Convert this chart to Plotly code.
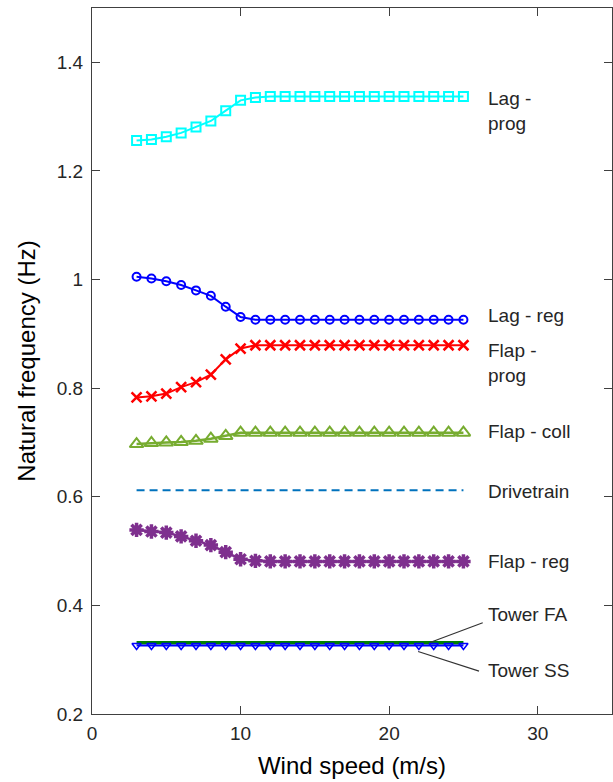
import plotly.graph_objects as go

# ---------------- data ----------------
wind_speed = list(range(3, 26))  # 3..25 m/s

lag_prog = [1.256, 1.258, 1.263, 1.270, 1.281, 1.292, 1.311, 1.330, 1.335] + [1.337] * 14
lag_reg = [1.005, 1.002, 0.997, 0.990, 0.980, 0.970, 0.950, 0.931, 0.926] + [0.926] * 14
flap_prog = [0.783, 0.785, 0.790, 0.802, 0.811, 0.825, 0.853, 0.873, 0.879] + [0.879] * 14
flap_coll = [0.697, 0.699, 0.700, 0.701, 0.703, 0.707, 0.712, 0.718, 0.718] + [0.718] * 14
drivetrain = [0.612] * 23
flap_reg = [0.539, 0.536, 0.534, 0.527, 0.519, 0.511, 0.498, 0.485, 0.482] + [0.481] * 14
tower_fa = [0.331] * 23
tower_ss = [0.326] * 23

# label texts and their anchor values (x, y in data units)
label_texts = ["Lag -<br>prog", "Lag - reg", "Flap -<br>prog", "Flap - coll",
               "Drivetrain", "Flap - reg", "Tower FA", "Tower SS"]
label_x = [26.5] * 8
label_y = [1.311, 0.934, 0.847, 0.720, 0.610, 0.480, 0.383, 0.281]

# leader lines for tower labels: (x0, y0, x1, y1)
leader_fa = (22.75, 0.3316, 26.3, 0.368)
leader_ss = (21.95, 0.315, 26.05, 0.279)

x_ticks = [0, 10, 20, 30]
y_ticks = [0.2, 0.4, 0.6, 0.8, 1.0, 1.2, 1.4]
y_ticktext = ["0.2", "0.4", "0.6", "0.8", "1", "1.2", "1.4"]

FONT = "Arial, Liberation Sans, sans-serif"
TXT = "#262626"

fig = go.Figure()

fig.add_trace(go.Scatter(x=wind_speed, y=lag_prog, mode="lines+markers",
                         line=dict(color="#00FFFF", width=2),
                         marker=dict(symbol="square-open", size=9, color="#00FFFF",
                                     line=dict(width=2, color="#00FFFF"))))
fig.add_trace(go.Scatter(x=wind_speed, y=lag_reg, mode="lines+markers",
                         line=dict(color="#0000FF", width=2),
                         marker=dict(symbol="circle-open", size=8, color="#0000FF",
                                     line=dict(width=2, color="#0000FF"))))
fig.add_trace(go.Scatter(x=wind_speed, y=flap_prog, mode="lines+markers",
                         line=dict(color="#FF0000", width=2),
                         marker=dict(symbol="x-thin-open", size=10, color="#FF0000",
                                     line=dict(width=2.5, color="#FF0000"))))
fig.add_trace(go.Scatter(x=wind_speed, y=flap_coll, mode="lines+markers",
                         line=dict(color="#77AC30", width=2.5),
                         marker=dict(symbol="triangle-up-open", size=12, color="#77AC30",
                                     line=dict(width=2, color="#77AC30"))))
fig.add_trace(go.Scatter(x=wind_speed, y=drivetrain, mode="lines",
                         line=dict(color="#0072BD", width=2, dash="8px,5px")))
fig.add_trace(go.Scatter(x=wind_speed, y=flap_reg, mode="lines+markers",
                         line=dict(color="#7E2F8E", width=2.5),
                         marker=dict(symbol="asterisk-open", size=12, color="#7E2F8E",
                                     line=dict(width=3.5, color="#7E2F8E"))))
fig.add_trace(go.Scatter(x=wind_speed, y=tower_fa, mode="lines",
                         line=dict(color="#008000", width=3.5)))
fig.add_trace(go.Scatter(x=wind_speed, y=tower_ss, mode="lines+markers",
                         line=dict(color="#0000FF", width=2),
                         marker=dict(symbol="triangle-down-open", size=8, color="#0000FF",
                                     line=dict(width=1.5, color="#0000FF"))))

for t, xx, yy in zip(label_texts, label_x, label_y):
    fig.add_annotation(x=xx, y=yy, text=t, showarrow=False, xanchor="left",
                       yanchor="middle", align="left",
                       font=dict(family=FONT, size=19, color=TXT))

for ld in (leader_fa, leader_ss):
    fig.add_shape(type="line", x0=ld[0], y0=ld[1], x1=ld[2], y1=ld[3],
                  line=dict(color="#333333", width=1.2))

axis_common = dict(showgrid=False, zeroline=False, showline=True, linecolor="#404040",
                   linewidth=1.2, mirror="ticks", ticks="inside", ticklen=8,
                   tickcolor="#404040", tickwidth=1.2,
                   tickfont=dict(family=FONT, size=19, color=TXT))

fig.update_xaxes(range=[0, 35], tickvals=x_ticks,
                 title=dict(text="Wind speed (m/s)", font=dict(family=FONT, size=24, color="#000000"),
                            standoff=14),
                 ticklabelstandoff=2, **axis_common)
fig.update_yaxes(range=[0.2, 1.5], tickvals=y_ticks, ticktext=y_ticktext,
                 title=dict(text="Natural frequency (Hz)", font=dict(family=FONT, size=24, color="#000000"),
                            standoff=14),
                 ticklabelstandoff=4, **axis_common)

fig.update_layout(width=613, height=782, showlegend=False,
                  margin=dict(l=92, r=1, t=8, b=68, autoexpand=False),
                  plot_bgcolor="white", paper_bgcolor="white")

fig.write_html("out.html")
